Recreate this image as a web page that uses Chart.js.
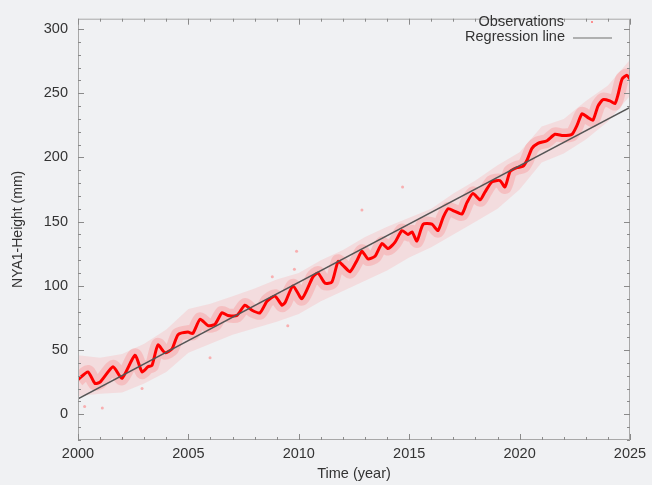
<!DOCTYPE html>
<html><head><meta charset="utf-8">
<script src="https://cdn.jsdelivr.net/npm/chart.js@4/dist/chart.umd.min.js"></script>
<style>html,body{margin:0;padding:0;background:#f0f1f3;}canvas{display:block;}</style>
</head><body>
<canvas id="c" width="652" height="485"></canvas>
<script>
// ---- Smoothed observation curve (red) ----
const obsYears = [2000.0,2000.45,2000.77,2001.0,2001.59,2001.99,2002.58,2002.9,2003.17,2003.35,2003.62,2003.94,2004.26,2004.53,2004.98,2005.2,2005.53,2005.89,2006.2,2006.52,2006.79,2007.2,2007.56,2007.88,2008.24,2008.56,2008.92,2009.24,2009.38,2009.74,2010.14,2010.64,2010.87,2011.19,2011.5,2011.78,2012.0,2012.32,2012.64,2012.86,2013.13,2013.45,2013.77,2014.04,2014.36,2014.67,2014.95,2015.13,2015.35,2015.63,2016.03,2016.3,2016.53,2016.76,2017.07,2017.39,2017.62,2017.89,2018.21,2018.43,2018.75,2019.11,2019.34,2019.57,2019.88,2020.15,2020.34,2020.56,2020.83,2021.24,2021.6,2021.97,2022.37,2022.6,2022.83,2023.1,2023.32,2023.55,2023.78,2024.09,2024.32,2024.46,2024.64,2024.86,2025.0];
const obsSmoothed = [27,33,24,25,37,28,46,33,37,38,54,48,51,62,64,63,74,69,70,79,77,77,85,81,79,88,92,85,87,100,90,107,110,102,103,119,116,111,120,127,121,123,133,129,134,143,140,142,135,148,148,143,153,160,158,156,165,172,167,173,181,182,177,189,192,193,198,207,211,213,218,217,218,225,234,231,229,240,245,244,242,249,261,264,261];
// ---- Spread of the raw observations (pink cloud) ----
const cloudYears = [2000,2001,2002,2003,2004,2005,2006,2007,2008,2009,2010,2011,2012,2013,2014,2015,2016,2017,2018,2019,2020,2021,2022,2023,2024,2025];
const cloudUpper = [46,44,47,55,66,82,86,92,98,105,110,120,128,138,146,153,160,172,182,194,204,224,230,244,256,276];
const cloudLower = [14,16,17,24,33,48,55,62,67,72,78,88,96,104,112,122,130,140,150,160,175,196,203,214,228,248];
// ---- Isolated raw observations ----
const outlierYears = [2000.3,2001.1,2002.9,2005.98,2008.8,2009.5,2009.8,2009.9,2012.86,2014.7];
const outlierValues = [6,5,20,44,107,69,113,127,159,177];
// ---- Regression line ----
const regYears = [2000, 2025];
const regValues = [12, 239];
// ---- Axis ticks ----
const xTicks = [2000,2005,2010,2015,2020,2025];
const yTicks = [0,50,100,150,200,250,300];

const pts = (xs, ys) => xs.map((x, i) => ({x, y: ys[i]}));
const FONT = '"Liberation Sans", Arial, sans-serif';
const TXT = '#333333';

const frame = {
  id: 'frame',
  beforeDraw(chart) {
    const c = chart.ctx;
    c.save(); c.fillStyle = '#f0f1f3'; c.fillRect(0, 0, chart.width, chart.height); c.restore();
  },
  afterDraw(chart) {
    const c = chart.ctx, a = chart.chartArea, xs = chart.scales.x, ys = chart.scales.y;
    c.save();
    c.strokeStyle = '#a8a8a8'; c.lineWidth = 1;
    c.strokeRect(a.left + 0.5, a.top + 0.5, a.right - a.left - 1, a.bottom - a.top - 1);
    c.strokeStyle = '#8a8a8a';
    c.beginPath();
    for (let yr = 2000; yr <= 2025; yr++) {
      const px = Math.round(xs.getPixelForValue(yr)) + 0.5;
      const L = xTicks.includes(yr) ? 6 : 3;
      c.moveTo(px, a.bottom); c.lineTo(px, a.bottom - L);
      c.moveTo(px, a.top); c.lineTo(px, a.top + L);
    }
    for (let v = -20; v <= 300; v += 10) {
      const py = Math.round(ys.getPixelForValue(v)) + 0.5;
      const L = yTicks.includes(v) ? 6 : 3;
      c.moveTo(a.left, py); c.lineTo(a.left + L, py);
      c.moveTo(a.right, py); c.lineTo(a.right - L, py);
    }
    c.stroke();
    // legend (gnuplot style: text right-aligned, key sample at right)
    c.font = '14.5px ' + FONT; c.fillStyle = TXT; c.textAlign = 'right'; c.textBaseline = 'middle';
    c.fillText('Observations', 564, 22);
    c.fillText('Regression line', 565, 37);
    c.fillStyle = 'rgba(255,120,120,0.8)';
    c.fillRect(591, 21, 2, 2);
    c.strokeStyle = '#9a9a9a'; c.lineWidth = 1.5;
    c.beginPath(); c.moveTo(573, 38); c.lineTo(612, 38); c.stroke();
    c.restore();
  }
};

new Chart(document.getElementById('c'), {
  type: 'scatter',
  data: {
    datasets: [
      {label: 'Regression line', data: pts(regYears, regValues), showLine: true, borderColor: '#555555', borderWidth: 1.5, pointRadius: 0, order: 0},
      {label: 'Observations (smoothed)', data: pts(obsYears, obsSmoothed), showLine: true, borderColor: '#ff0000', borderWidth: 3, pointRadius: 0, tension: 0.2, order: 1},
      {label: 'halo', data: pts(obsYears, obsSmoothed), showLine: true, borderColor: 'rgba(255,90,90,0.22)', borderWidth: 14, pointRadius: 0, tension: 0.2, order: 2},
      {label: 'outliers', data: pts(outlierYears, outlierValues), showLine: false, backgroundColor: 'rgba(255,120,120,0.55)', borderWidth: 0, pointRadius: 1.5, order: 3},
      {label: 'cloudUpper', data: pts(cloudYears, cloudUpper), showLine: true, borderWidth: 0, borderColor: 'rgba(0,0,0,0)', pointRadius: 0, fill: '+1', backgroundColor: 'rgba(255,140,140,0.2)', order: 4},
      {label: 'cloudLower', data: pts(cloudYears, cloudLower), showLine: true, borderWidth: 0, borderColor: 'rgba(0,0,0,0)', pointRadius: 0, fill: false, order: 5}
    ]
  },
  options: {
    responsive: false, animation: false,
    layout: {padding: {top: 12, right: 22, left: 0, bottom: 0}},
    plugins: {legend: {display: false}, tooltip: {enabled: false}},
    scales: {
      x: {
        type: 'linear', min: 2000, max: 2025,
        afterFit(s) { s.height = 45; },
        afterBuildTicks(s) { s.ticks = xTicks.map(v => ({value: v})); },
        grid: {display: false, drawTicks: false}, border: {display: false},
        ticks: {padding: 5, color: TXT, font: {family: FONT, size: 14.5}, maxRotation: 0, callback: v => String(v)},
        title: {display: true, text: 'Time (year)', color: TXT, font: {family: FONT, size: 14.5}, padding: {top: 0, bottom: 2}}
      },
      y: {
        type: 'linear', min: -20, max: 308,
        afterFit(s) { s.width = 78; },
        afterBuildTicks(s) { s.ticks = yTicks.map(v => ({value: v})); },
        grid: {display: false, drawTicks: false}, border: {display: false},
        ticks: {padding: 10, color: TXT, font: {family: FONT, size: 14.5}, callback: v => String(v)},
        title: {display: true, text: 'NYA1-Height (mm)', color: TXT, font: {family: FONT, size: 14}, padding: {top: 10, bottom: 0}}
      }
    }
  },
  plugins: [frame]
});
</script>
</body></html>
